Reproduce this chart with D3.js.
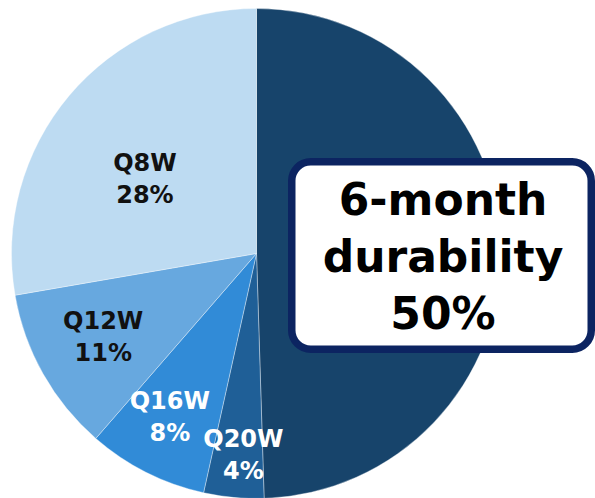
<!DOCTYPE html>
<html>
<head>
<meta charset="utf-8">
<script src="https://cdn.jsdelivr.net/npm/d3@7"></script>
<style>
  html, body { margin: 0; padding: 0; background: #ffffff; }
  svg { display: block; }
  text { font-family: "DejaVu Sans", "Open Sans", sans-serif; font-weight: bold; }
</style>
</head>
<body>
<svg id="chart" width="595" height="498"></svg>
<script>
// Share of patients by dosing interval (percent)
const categories = ["6-month durability", "Q20W", "Q16W", "Q12W", "Q8W"];
const shares = [50, 4, 8, 11, 28];
const sliceColors = ["#17446b", "#1f5f97", "#318bd7", "#67a8df", "#bddbf2"];
const labelColors = [null, "#ffffff", "#ffffff", "#111111", "#111111"];
// label placement: fraction of radius and angular nudge (degrees)
const labelRadius = [0, 0.82, 0.75, 0.71, 0.55];
const labelNudge = [0, -1.6, 1.4, 1.2, -6];
const calloutLines = ["6-month", "durability", "50%"];

const W = 595, H = 498;
const cx = 256.5, cy = 253.5, R = 245;
const svg = d3.select("#chart");

const pie = d3.pie().sort(null).value(d => d.v);
const arcs = pie(categories.map((c, i) => ({ c, v: shares[i], i })));
const arc = d3.arc().innerRadius(0).outerRadius(R);

const g = svg.append("g").attr("transform", `translate(${cx},${cy})`);
g.selectAll("path.slice")
  .data(arcs)
  .join("path")
  .attr("class", "slice")
  .attr("d", arc)
  .attr("fill", d => sliceColors[d.data.i])
  .attr("stroke", "#ffffff")
  .attr("stroke-opacity", 0.45)
  .attr("stroke-width", 0.8);

// Two-line slice labels: name and percent
const labelled = arcs.filter(d => d.data.i > 0);
const lab = g.selectAll("g.lab")
  .data(labelled)
  .join("g")
  .attr("class", "lab")
  .attr("transform", d => {
    const a = (d.startAngle + d.endAngle) / 2 + labelNudge[d.data.i] * Math.PI / 180;
    const r = R * labelRadius[d.data.i];
    return `translate(${r * Math.sin(a)},${-r * Math.cos(a)})`;
  });
lab.append("text")
  .attr("text-anchor", "middle")
  .attr("y", -7)
  .attr("font-size", 24)
  .attr("fill", d => labelColors[d.data.i])
  .text(d => d.data.c);
lab.append("text")
  .attr("text-anchor", "middle")
  .attr("y", 25)
  .attr("font-size", 24)
  .attr("fill", d => labelColors[d.data.i])
  .text(d => d.data.v + "%");

// Callout box for the largest share
const box = svg.append("g");
box.append("rect")
  .attr("x", 291.75).attr("y", 161.75)
  .attr("width", 299.5).attr("height", 187.5)
  .attr("rx", 19).attr("ry", 19)
  .attr("fill", "#ffffff")
  .attr("stroke", "#0c2461")
  .attr("stroke-width", 7.5);
box.selectAll("text")
  .data(calloutLines)
  .join("text")
  .attr("x", 443)
  .attr("y", (d, i) => 215 + i * 57)
  .attr("text-anchor", "middle")
  .attr("font-size", 44)
  .attr("fill", "#000000")
  .text((d, i) => i === 2 ? shares[0] + "%" : d);
</script>
</body>
</html>
